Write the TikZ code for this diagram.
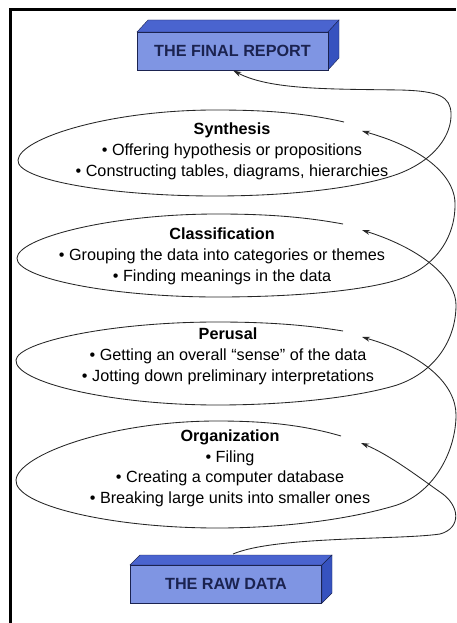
\documentclass[tikz,border=0pt]{standalone}
\usepackage{fontspec}
\setmainfont{Liberation Sans}
\usetikzlibrary{arrows.meta}
\definecolor{boxfront}{HTML}{7F95E3}
\definecolor{boxtop}{HTML}{4A64CF}
\definecolor{boxside}{HTML}{3652BF}
\definecolor{navy}{HTML}{1B2350}

\begin{document}
\begin{tikzpicture}[x=1pt,y=-1pt,
  spiral/.style={line width=0.85pt,draw=black!85},
  tip/.style={-{Stealth[length=8pt,width=5pt]}},
  stage/.style={align=center,inner sep=0pt,font=\fontsize{16.2}{21}\selectfont},
  boxtext/.style={draw=navy,fill=boxfront,inner sep=0pt,minimum width=191pt,
    minimum height=38pt,text=navy,font=\fontsize{16.2}{19}\selectfont\bfseries}]

\useasboundingbox (0,0) rectangle (456,623);
\fill[white] (0,0) rectangle (456,623);
\draw[line width=3pt] (10,623) -- (10,10) -- (456,10);

\filldraw[fill=boxtop,draw=navy] (137,32) -- (148,20) -- (339,20) -- (328,32) -- cycle;
\filldraw[fill=boxside,draw=navy] (328,32) -- (339,20) -- (339,58) -- (328,70) -- cycle;
\node (report) at (232.5,51) [boxtext] {THE FINAL REPORT};

\filldraw[fill=boxtop,draw=navy] (130,565) -- (140,555) -- (332,555) -- (322,565) -- cycle;
\filldraw[fill=boxside,draw=navy] (322,565) -- (332,555) -- (332,593) -- (322,603) -- cycle;
\node (raw) at (226,584) [boxtext] {THE RAW DATA};

\node (synth) at (232,151) [stage] {\textbf{Synthesis}\\• Offering hypothesis or propositions\\• Constructing tables, diagrams, hierarchies};
\node (class) at (222,256.5) [stage] {\textbf{Classification}\\• Grouping the data into categories or themes\\• Finding meanings in the data};
\node (perus) at (228,356.5) [stage] {\textbf{Perusal}\\• Getting an overall “sense” of the data\\• Jotting down preliminary interpretations};
\node (organ) at (230,468.5) [stage,font=\fontsize{16.2}{20.5}\selectfont] {\textbf{Organization}\\• Filing\\• Creating a computer database\\• Breaking large units into smaller ones};

\coordinate (rawout) at (233,554);
\coordinate (orgend) at (341,436);
\coordinate (orgtip) at (361,443);
\coordinate (perend) at (343,331);
\coordinate (pertip) at (362,337);
\coordinate (claend) at (343,224);
\coordinate (clatip) at (362,230);
\coordinate (synend) at (344,122);
\coordinate (syntip) at (362,131);

\draw[spiral,tip] (rawout) .. controls (275,536) and (400,540) .. (440,534)
  .. controls (462,528) and (460,505) .. (440,492) .. controls (420,478) and (390,455) .. (orgtip);
\draw[spiral,tip] (orgend) .. controls (300,424) and (260,421) .. (217,421)
  .. controls (110,421) and (18,455) .. (16,480) .. controls (14,505) and (110,528) .. (217,528)
  .. controls (300,528) and (365,515) .. (397,505) .. controls (435,492) and (456,450) .. (456,415)
  .. controls (456,385) and (425,355) .. (pertip);
\draw[spiral,tip] (perend) .. controls (300,324) and (260,322) .. (217,322)
  .. controls (110,322) and (18,342) .. (16,360) .. controls (14,382) and (110,405) .. (217,405)
  .. controls (300,405) and (365,395) .. (397,385) .. controls (435,372) and (456,340) .. (456,305)
  .. controls (456,280) and (425,250) .. (clatip);
\draw[spiral,tip] (claend) .. controls (300,216) and (260,214) .. (217,214)
  .. controls (110,214) and (18,238) .. (17,258) .. controls (16,278) and (110,297) .. (217,297)
  .. controls (300,297) and (365,290) .. (397,280) .. controls (435,268) and (455,238) .. (455,205)
  .. controls (456,180) and (430,150) .. (syntip);
\draw[spiral,tip,shorten >=1pt] (synend) .. controls (300,112) and (260,110) .. (215,110)
  .. controls (110,110) and (20,138) .. (18,160) .. controls (16,180) and (110,196) .. (215,196)
  .. controls (295,196) and (362,187) .. (398,174) .. controls (435,160) and (452,135) .. (451,113)
  .. controls (450,97) and (440,91) .. (400,90) .. controls (330,89) and (270,90) .. (report.south);

\end{tikzpicture}
\end{document}
